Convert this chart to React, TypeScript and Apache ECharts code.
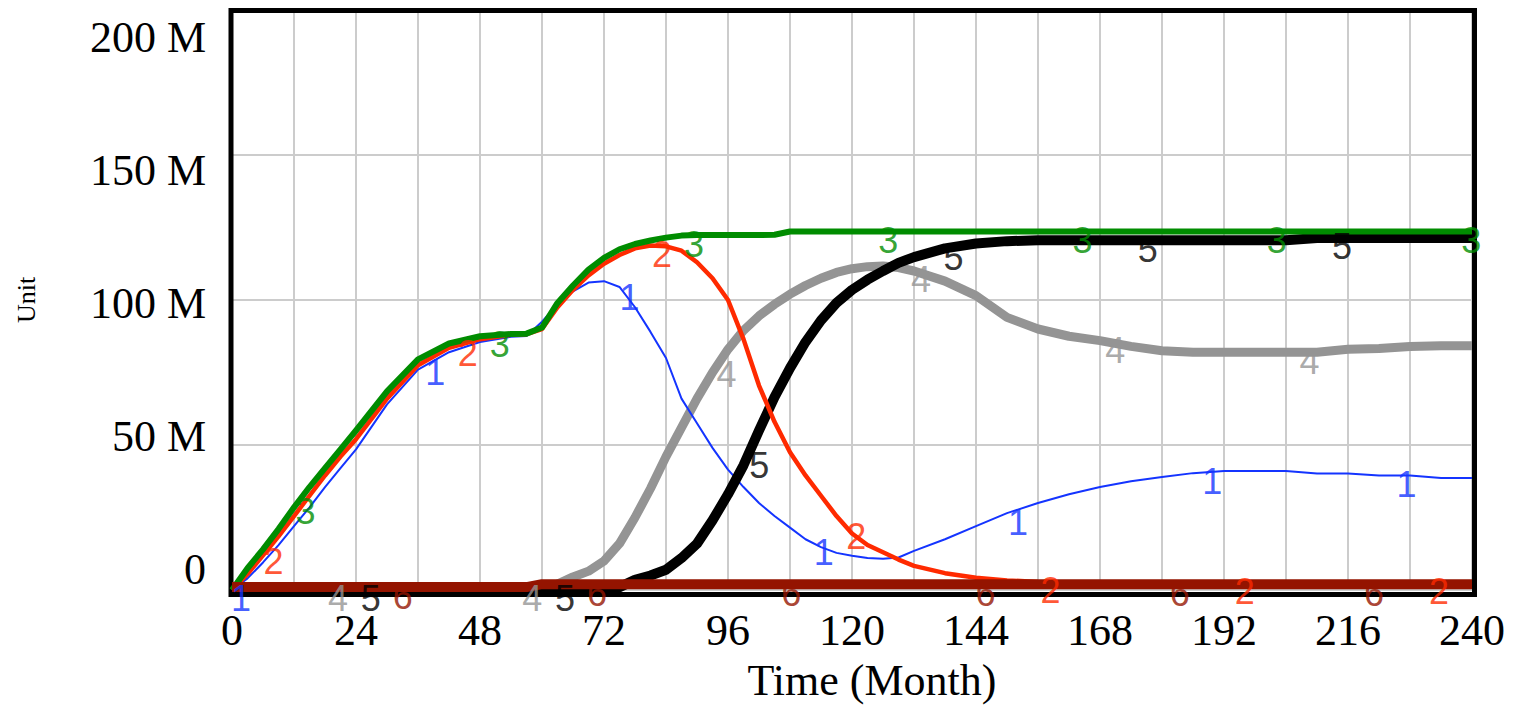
import React, { useEffect, useRef } from "react";
import * as echarts from "echarts";

// Time in months
const months = [0, 3, 6, 9, 12, 15, 18, 21, 24, 30, 36, 42, 48, 54, 57, 60, 63, 66, 69, 72, 75, 78, 81, 84, 87, 90, 93, 96, 99, 102, 105, 108, 111, 114, 117, 120, 123, 126, 129, 132, 138, 144, 150, 156, 162, 168, 174, 180, 186, 192, 198, 204, 210, 216, 222, 228, 234, 240];

// Values in millions of units
const series1 = [0, 4, 9.5, 15.5, 22, 28.5, 35.5, 42, 48.5, 64, 76, 82, 85.5, 87.3, 87.6, 92.5, 98.5, 103, 106, 106.5, 104.5, 97.5, 89, 80, 66, 57.5, 49, 41.5, 35.5, 30, 25.5, 21.5, 17.5, 14.8, 12.8, 11.8, 11, 10.8, 11.2, 13.5, 17.5, 22, 26.5, 30, 33, 35.5, 37.5, 39, 40.3, 41, 41, 41, 40.2, 40.2, 39.5, 39.5, 38.6, 38.6];
const series2 = [0, 5.5, 12, 18.5, 25.5, 32.5, 39.5, 46, 52, 66, 77.5, 83.5, 86.5, 88, 88.2, 90, 97.5, 103.5, 108.5, 112.5, 115.5, 117.8, 118.8, 118.5, 117, 113, 107.5, 100, 86.5, 70.5, 58, 47.5, 39.5, 32.5, 25.5, 19.5, 15.5, 13, 10.5, 8.3, 5.8, 4.2, 3.3, 2.8, 2.6, 2.5, 2.5, 2.5, 2.5, 2.5, 2.5, 2.5, 2.5, 2.5, 2.5, 2.5, 2.5, 2.5];
const series3 = [0, 7.5, 14, 21, 28.5, 35.5, 42, 48.5, 55, 68.5, 79.5, 85, 87.5, 88.3, 88.4, 90.5, 99, 105, 110.5, 114.5, 117.5, 119.3, 120.5, 121.5, 122.2, 122.4, 122.4, 122.4, 122.4, 122.4, 122.5, 123.6, 123.6, 123.6, 123.6, 123.6, 123.6, 123.6, 123.6, 123.6, 123.6, 123.6, 123.6, 123.6, 123.6, 123.6, 123.6, 123.6, 123.6, 123.6, 123.6, 123.6, 123.6, 123.6, 123.6, 123.6, 123.6, 123.6];
const series4 = [0, 0, 0, 0, 0, 0, 0, 0, 0, 0, 0, 0, 0, 0, 0, 0.8, 2, 4.5, 6.5, 10, 16, 25, 35, 46, 56, 66, 75, 83, 89.5, 94.5, 98.5, 102, 105, 107.5, 109.5, 110.8, 111.5, 111.7, 111.2, 110, 106.5, 101.5, 94, 90, 87.5, 86, 84, 82.5, 82, 82, 82, 82, 82, 83, 83.3, 84, 84.2, 84.2];
const series5 = [0, 0, 0, 0, 0, 0, 0, 0, 0, 0, 0, 0, 0, 0, 0, 0, 0, 0, 0, 0, 1, 3.5, 5, 7, 11, 16, 24, 33, 43, 55, 66.5, 76.5, 85.5, 93, 99, 103.5, 107, 110, 112.8, 114.8, 117.8, 119.5, 120.3, 120.6, 120.6, 120.6, 120.6, 120.6, 120.6, 120.6, 120.6, 120.6, 121.4, 121.4, 121.4, 121.4, 121.4, 121.4];
const series6 = [1, 1, 1, 1, 1, 1, 1, 1, 1, 1, 1, 1, 1, 1, 1, 2, 2, 2, 2, 2, 2, 2, 2, 2, 2, 2, 2, 2, 2, 2, 2, 2, 2, 2, 2, 2, 2, 2, 2, 2, 2, 2, 2, 2, 2, 2, 2, 2, 2, 2, 2, 2, 2, 2, 2, 2, 2, 2];

// Series number markers [month, value]
const labels1 = [[0, 0], [37.6, 78], [75.2, 104], [112.8, 16], [150.4, 26.5], [188, 40.5], [225.6, 39.5]];
const labels2 = [[6.3, 13], [43.9, 84.5], [81.5, 118.8], [119.1, 21.5], [156.7, 2.8], [194.3, 2.5], [231.9, 2.5]];
const labels3 = [[12.5, 30], [50.1, 87.8], [87.7, 122.2], [125.3, 123.6], [162.9, 123.6], [200.5, 123.6], [238.1, 123.6]];
const labels4 = [[18.8, 0], [56.4, 0], [94, 77.5], [131.6, 110.2], [169.2, 85.6], [206.8, 82]];
const labels5 = [[25.1, 0], [62.7, 0], [100.3, 46], [137.9, 117.6], [175.5, 120.6], [213.1, 121.4]];
const labels6 = [[31.3, 1], [68.9, 2], [106.5, 2], [144.1, 2], [181.7, 2], [219.3, 2]];

const xTickLabels = [0, 24, 48, 72, 96, 120, 144, 168, 192, 216, 240];
const yTickLabels = [0, 50, 100, 150, 200];

const COLORS = {
  s1: "#1434ff",
  s2: "#ff2a00",
  s3: "#008c00",
  s4: "#949494",
  s5: "#000000",
  s6: "#941400",
};

const SERIF = "Liberation Serif, Times New Roman, serif";
const SANS = "Liberation Sans, Arial, sans-serif";

export default function App() {
  const ref = useRef<HTMLDivElement>(null);

  useEffect(() => {
    if (!ref.current) return;
    const chart = echarts.init(ref.current, null, { renderer: "svg" });

    const pts = (arr: number[]) => months.map((m, i) => [m, arr[i]]);

    const line = (name: string, arr: number[], color: string, width: number, clip = true) => ({
      name,
      type: "line",
      data: pts(arr),
      showSymbol: false,
      symbol: "none",
      clip,
      smooth: false,
      lineStyle: { color, width, join: "round" },
      itemStyle: { color },
      emphasis: { disabled: true },
      yAxisIndex: 0,
    });

    const marks = (num: string, arr: number[][], color: string) => ({
      name: "label" + num,
      type: "scatter",
      data: arr,
      symbol: "circle",
      symbolSize: 0.1,
      itemStyle: { color: "transparent" },
      yAxisIndex: 0,
      clip: false,
      z: 10,
      emphasis: { disabled: true },
      label: {
        show: true,
        formatter: num,
        position: [0, 0],
        align: "left",
        verticalAlign: "top",
        offset: [-1, -5],
        color,
        fontFamily: SANS,
        fontSize: 36,
        lineHeight: 28,
      },
    });

    chart.setOption({
      animation: false,
      backgroundColor: "#ffffff",
      grid: {
        left: 232,
        right: 42,
        top: 10,
        bottom: 117,
        show: false,
      },
      graphic: [
        {
          type: "rect",
          z: 1,
          silent: true,
          shape: { x: 231, y: 10.5, width: 1243.5, height: 584 },
          style: { fill: "none", stroke: "#000000", lineWidth: 5 },
        },
      ],
      xAxis: {
        type: "value",
        min: 0,
        max: 240,
        interval: 12,
        axisLine: { show: false },
        axisTick: { show: false },
        splitLine: { show: true, lineStyle: { color: "#cccccc", width: 2 } },
        axisLabel: {
          customValues: xTickLabels,
          margin: 24,
          fontFamily: SERIF,
          fontSize: 44,
          lineHeight: 32,
          color: "#000000",
        },
        name: "Time (Month)",
        nameLocation: "middle",
        nameGap: 68,
        nameTextStyle: {
          fontFamily: SERIF,
          fontSize: 44,
          lineHeight: 44,
          color: "#000000",
          padding: [0, 0, 0, 40],
        },
      },
      yAxis: [
        {
          type: "value",
          min: 0,
          max: 200,
          interval: 50,
          axisLine: { show: false },
          axisTick: { show: false },
          axisLabel: { show: false },
          splitLine: { show: true, lineStyle: { color: "#cccccc", width: 2 } },
          name: "Unit",
          nameLocation: "middle",
          nameGap: 193,
          nameRotate: 90,
          nameTextStyle: {
            fontFamily: SERIF,
            fontSize: 26,
            lineHeight: 26,
            color: "#000000",
          },
        },
        {
          type: "value",
          min: -7.512,
          max: 210.33,
          position: "left",
          axisLine: { show: false },
          axisTick: { show: false },
          splitLine: { show: false },
          axisLabel: {
            customValues: yTickLabels,
            formatter: (v: number) => (v === 0 ? "0" : `${v} M`),
            margin: 26,
            fontFamily: SERIF,
            fontSize: 44,
            lineHeight: 44,
            color: "#000000",
          },
        },
      ],
      series: [
        line("4", series4, COLORS.s4, 9),
        line("1", series1, COLORS.s1, 2),
        line("5", series5, COLORS.s5, 10),
        line("2", series2, COLORS.s2, 4.5),
        line("3", series3, COLORS.s3, 6),
        line("6", series6, COLORS.s6, 10, false),
        marks("1", labels1, COLORS.s1),
        marks("2", labels2, COLORS.s2),
        marks("3", labels3, COLORS.s3),
        marks("4", labels4, COLORS.s4),
        marks("5", labels5, COLORS.s5),
        marks("6", labels6, COLORS.s6),
      ],
    });

    return () => chart.dispose();
  }, []);

  return (
    <div
      ref={ref}
      style={{ position: "absolute", left: 0, top: 0, width: 1514, height: 707 }}
    />
  );
}
